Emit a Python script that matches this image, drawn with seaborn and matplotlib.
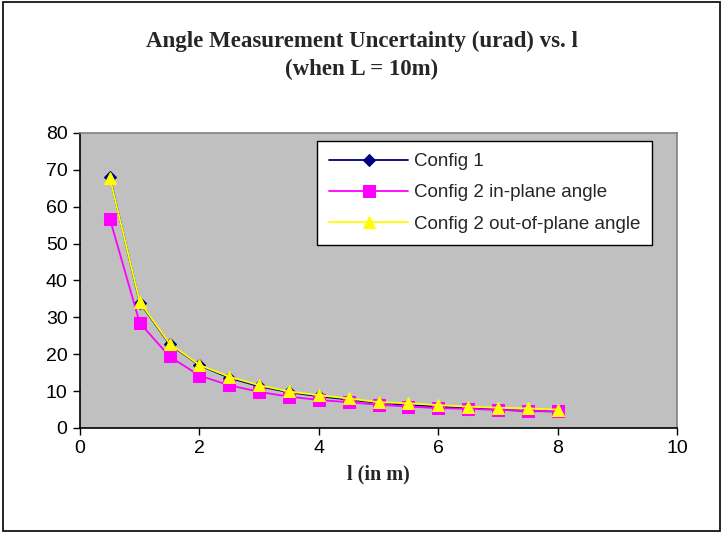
import matplotlib
matplotlib.use("Agg")
import matplotlib.pyplot as plt
import seaborn as sns
import pandas as pd

# distance l in m
l_values = [0.5, 1.0, 1.5, 2.0, 2.5, 3.0, 3.5, 4.0, 4.5, 5.0, 5.5, 6.0, 6.5, 7.0, 7.5, 8.0]
config1 = [68, 34, 22.7, 17, 13.6, 11.3, 9.7, 8.6, 7.7, 6.8, 6.3, 5.8, 5.4, 5.0, 4.6, 4.5]
config2_in = [56.7, 28.5, 19.4, 14.2, 11.6, 9.8, 8.5, 7.6, 7.0, 6.3, 5.8, 5.4, 5.2, 4.9, 4.7, 4.5]
config2_out = [67.8, 34.2, 22.9, 17.1, 13.9, 11.6, 9.9, 8.9, 8.0, 7.0, 6.7, 6.2, 5.8, 5.5, 5.3, 5.0]

series_names = ["Config 1", "Config 2 in-plane angle", "Config 2 out-of-plane angle"]
colors = ["#000080", "#FF00FF", "#FFFF00"]
markers = ["D", "s", "^"]

df = pd.DataFrame({
    "l": l_values * 3,
    "value": config1 + config2_in + config2_out,
    "series": [n for n in series_names for _ in l_values],
})

sns.set_style("white")
plt.rcParams["font.family"] = ["Liberation Sans", "DejaVu Sans"]

fig = plt.figure(figsize=(7.23, 5.33), dpi=100)
ax = fig.add_axes([0.1107, 0.197, 0.8257, 0.5535])
ax.set_facecolor("#C0C0C0")

for name, c, m in zip(series_names, colors, markers):
    sub = df[df["series"] == name]
    sns.lineplot(data=sub, x="l", y="value", ax=ax, color=c, marker=m,
                 markersize=8 if m != "D" else 6, markeredgecolor=c,
                 linewidth=1.3, label=name)

ax.set_xlim(0, 10)
ax.set_ylim(0, 80)
ax.set_xticks(range(0, 11, 2))
ax.set_yticks(range(0, 81, 10))
ax.tick_params(axis="both", labelsize=14, direction="out", length=5, width=1,
               colors="black", bottom=True, left=True, pad=4)
for side in ["left", "bottom"]:
    ax.spines[side].set_color("black")
    ax.spines[side].set_linewidth(1.2)
for side in ["top", "right"]:
    ax.spines[side].set_color("#808080")
    ax.spines[side].set_linewidth(1.2)

ax.set_xlabel("l (in m)", fontsize=14.5, fontweight="bold",
              family=["Liberation Serif"], labelpad=5)
ax.set_ylabel("")

fig.text(0.5, 0.896, "Angle Measurement Uncertainty (urad) vs. l\n(when L = 10m)",
         ha="center", va="center", fontsize=16.5, fontweight="bold",
         family=["Liberation Serif"], linespacing=1.45)

leg = ax.legend(loc="upper left", bbox_to_anchor=(0.397, 0.973), fontsize=13.5,
                frameon=True, fancybox=False, framealpha=1, borderpad=0.65,
                borderaxespad=0, labelspacing=0.75, handlelength=4.2,
                handletextpad=0.3)
leg.get_frame().set_edgecolor("black")
leg.get_frame().set_facecolor("white")
leg.get_frame().set_linewidth(1)

# outer chart border
fig.patches.append(plt.Rectangle((0.004, 0.004), 0.992, 0.992, transform=fig.transFigure,
                                 fill=False, edgecolor="black", linewidth=1.2))

fig.savefig("out.png", dpi=100)
